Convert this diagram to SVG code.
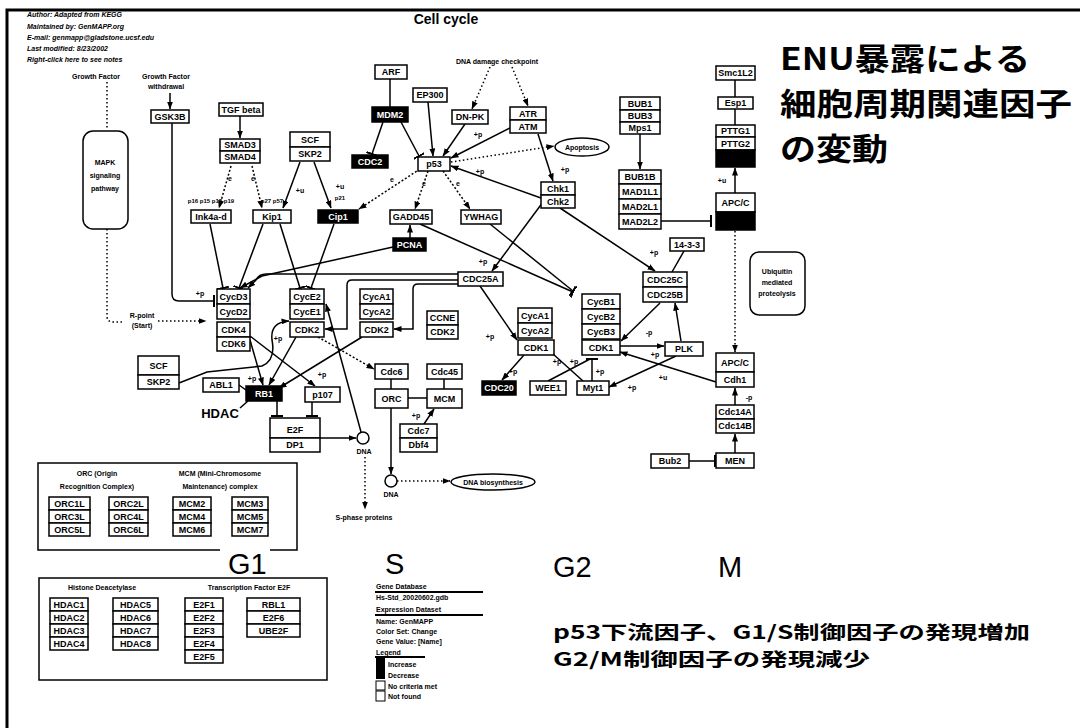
<svg xmlns="http://www.w3.org/2000/svg" width="1080" height="728" viewBox="0 0 1080 728">
<style>
.b{fill:#fff;stroke:#000;stroke-width:1.5}
.k{fill:#000;stroke:#000;stroke-width:1.5}
.t{font-family:"Liberation Sans",Arial,sans-serif;font-size:9px;font-weight:bold;text-anchor:middle;fill:#000}
.w{fill:#fff}
.s{font-family:"Liberation Sans",Arial,sans-serif;font-size:7px;font-weight:bold;fill:#000}
.c{text-anchor:middle}
.l{stroke:#000;stroke-width:1.5;fill:none}
.d{stroke-dasharray:2 2}
.o{stroke-dasharray:1.5 2.5}
.big{font-family:"Liberation Sans",Arial,sans-serif;font-size:29px;fill:#000}
.jp{font-family:"Noto Sans CJK JP","Noto Sans CJK SC",sans-serif;font-weight:bold;fill:#000}
</style>
<defs>
<marker id="ar" viewBox="0 0 8 6" refX="7.5" refY="3" markerWidth="8" markerHeight="6" markerUnits="userSpaceOnUse" orient="auto"><path d="M0,0 L8,3 L0,6 z"/></marker>
<marker id="bar" viewBox="0 0 2 12" refX="1" refY="6" markerWidth="2" markerHeight="12" markerUnits="userSpaceOnUse" orient="auto"><rect width="2" height="12"/></marker>
</defs>
<rect width="1080" height="728" fill="#fff"/>
<path d="M7,728 L7,10 L1080,10" fill="none" stroke="#000" stroke-width="3"/>

<g id="header" class="s" font-style="italic">
<text x="27" y="17">Author: Adapted from KEGG</text>
<text x="27" y="29">Maintained by: GenMAPP.org</text>
<text x="27" y="40">E-mail: genmapp@gladstone.ucsf.edu</text>
<text x="27" y="51">Last modified: 8/23/2002</text>
<text x="27" y="62">Right-click here to see notes</text>
</g>
<text x="446" y="24" font-family="Liberation Sans,Arial,sans-serif" font-size="14" font-weight="bold" text-anchor="middle">Cell cycle</text>

<g id="labels" class="s c">
<text x="96" y="79">Growth Factor</text>
<text x="166" y="79">Growth Factor</text>
<text x="166" y="89">withdrawal</text>
<text x="497" y="64">DNA damage checkpoint</text>
<text x="142" y="318">R-point</text>
<text x="142" y="328">(Start)</text>
<text x="211" y="203" font-size="6">p16 p15 p18 p19</text>
<text x="272" y="203" font-size="6">p27 p57</text>
<text x="340" y="200" font-size="6">p21</text>
<text x="364" y="520">S-phase proteins</text>
<text x="364" y="454">DNA</text>
<text x="391" y="497">DNA</text>
</g>
<text x="220" y="418" font-family="Liberation Sans,Arial,sans-serif" font-size="13" font-weight="bold" text-anchor="middle">HDAC</text>

<g id="connectors">
<path class="l o" d="M107,82 L107,130"/>
<path class="l o" d="M107,229 L107,316 Q107,322 113,322 L124,322"/>
<path class="l o" marker-end="url(#ar)" d="M158,321 L206,321"/>
<path class="l" marker-end="url(#ar)" d="M170,93 L170,109"/>
<path class="l" marker-end="url(#bar)" d="M172,123 L172,294 Q172,301 179,301 L214,301"/>
<path class="l" marker-end="url(#ar)" d="M240,116 L240,138"/>
<path class="l d" marker-end="url(#ar)" d="M231,166 L219,208"/>
<path class="l d" marker-end="url(#ar)" d="M252,166 L262,208"/>
<path class="l" marker-end="url(#ar)" d="M300,162 L283,208"/>
<path class="l" marker-end="url(#ar)" d="M314,162 L331,208"/>
<path class="l" d="M390,79 L390,107"/>
<path class="l" marker-end="url(#bar)" d="M383,122 L372,154"/>
<path class="l" marker-end="url(#bar)" d="M401,122 L419,156"/>
<path class="l" marker-end="url(#ar)" d="M428,102 L433,156"/>
<path class="l" marker-end="url(#ar)" d="M465,124 L443,156"/>
<path class="l" marker-end="url(#ar)" d="M510,128 L451,158"/>
<path class="l o" marker-end="url(#ar)" d="M490,67 L472,109"/>
<path class="l o" marker-end="url(#ar)" d="M512,67 L528,106"/>
<path class="l o" marker-end="url(#ar)" d="M451,162 L554,146"/>
<path class="l" marker-end="url(#ar)" d="M538,134 L553,181"/>
<path class="l" marker-end="url(#ar)" d="M541,198 L451,166"/>
<path class="l d" marker-end="url(#ar)" d="M420,169 L359,209"/>
<path class="l d" marker-end="url(#ar)" d="M428,171 L415,209"/>
<path class="l d" marker-end="url(#ar)" d="M443,171 L470,209"/>
<path class="l" marker-end="url(#ar)" d="M410,238 L410,225"/>
<path class="l" marker-end="url(#bar)" d="M420,224 L573,292"/>
<path class="l" marker-end="url(#bar)" d="M490,224 L573,291"/>
<path class="l" marker-end="url(#ar)" d="M543,202 L492,271"/>
<path class="l" marker-end="url(#ar)" d="M560,208 L655,271"/>
<path class="l" d="M684,251 L672,272"/>
<path class="l" marker-end="url(#ar)" d="M480,286 L517,340"/>
<path class="l" marker-end="url(#ar)" d="M524,355 L502,380"/>
<path class="l" d="M553,354 L583,381"/>
<path class="l" d="M548,381 L590,359"/>
<path class="l" marker-end="url(#bar)" d="M592,381 L592,359"/>
<path class="l" marker-end="url(#ar)" d="M620,346 L664,346"/>
<path class="l" marker-end="url(#ar)" d="M676,356 L609,387"/>
<path class="l" marker-end="url(#ar)" d="M681,341 L675,303"/>
<path class="l" marker-end="url(#ar)" d="M660,303 L621,341"/>
<path class="l" marker-end="url(#ar)" d="M716,382 L620,352"/>
<path class="l o" marker-end="url(#ar)" d="M735,231 L735,352"/>
<path class="l" marker-end="url(#ar)" d="M735,405 L735,388"/>
<path class="l" marker-end="url(#ar)" d="M735,453 L735,434"/>
<path class="l" marker-end="url(#bar)" d="M689,461 L715,461"/>
<path class="l" marker-end="url(#bar)" d="M661,221 L711,221"/>
<path class="l" marker-end="url(#ar)" d="M640,134 L640,169"/>
<path class="l" d="M735,80 L735,97 M735,109 L735,125"/>
<path class="l" marker-end="url(#ar)" d="M735,193 L735,168"/>
<path class="l" d="M391,379 L391,389 M444,379 L444,389 M408,398 L427,398"/>
<path class="l" marker-end="url(#ar)" d="M424,424 L434,409"/>
<path class="l" marker-end="url(#ar)" d="M391,408 L391,474"/>
<path class="l o" marker-end="url(#ar)" d="M397,481 L450,481"/>
<path class="l" marker-end="url(#ar)" d="M320,438 L356,438"/>
<path class="l" marker-end="url(#ar)" d="M361,432 L326,304"/>
<path class="l o" marker-end="url(#ar)" d="M365,457 L365,509"/>
<path class="l d" marker-end="url(#ar)" d="M318,337 L374,369"/>
<path class="l" marker-end="url(#ar)" d="M458,280 L352,280 Q347,280 347,285 L347,329 L325,329"/>
<path class="l" marker-end="url(#ar)" d="M458,284 L418,284 Q413,284 413,289 L413,329 L394,329"/>
<path class="l" marker-end="url(#ar)" d="M458,274 L266,274 Q259,274 256,280 L248,288"/>
<path class="l" marker-end="url(#ar)" d="M393,247 L262,276 L240,288"/>
<path class="l" marker-end="url(#bar)" d="M210,224 L223,288"/>
<path class="l" marker-end="url(#bar)" d="M263,224 L239,288"/>
<path class="l" marker-end="url(#bar)" d="M280,224 L300,288"/>
<path class="l" marker-end="url(#bar)" d="M334,224 L311,288"/>
<path class="l" marker-end="url(#ar)" d="M250,340 L263,385"/>
<path class="l" marker-end="url(#ar)" d="M250,336 L315,386"/>
<path class="l" marker-end="url(#ar)" d="M296,337 L269,385"/>
<path class="l" marker-end="url(#ar)" d="M362,337 L279,388"/>
<path class="l" marker-end="url(#ar)" d="M179,383 L207,372 L262,366 Q276,360 272,340 Q270,322 289,321"/>
<path class="l" marker-end="url(#bar)" d="M277,401 L277,416"/>
<path class="l" marker-end="url(#bar)" d="M312,402 L312,416"/>
<path class="l" d="M240,408 L248,401 M239,385 L246,390"/>
</g>

<g id="edge-labels" class="s c">
<text x="200" y="296">+p</text>
<text x="230" y="181">e</text>
<text x="253" y="181">e</text>
<text x="300" y="193">+u</text>
<text x="340" y="189">+u</text>
<text x="478" y="137">+p</text>
<text x="565" y="172">+p</text>
<text x="480" y="174">+p</text>
<text x="392" y="182">e</text>
<text x="424" y="186">e</text>
<text x="458" y="186">e</text>
<text x="483" y="264">+p</text>
<text x="654" y="255">+p</text>
<text x="490" y="339">+p</text>
<text x="513" y="374">+p</text>
<text x="557" y="364">+p</text>
<text x="574" y="364">+p</text>
<text x="600" y="374">+p</text>
<text x="649" y="335">-p</text>
<text x="655" y="357">+p</text>
<text x="632" y="390">+p</text>
<text x="663" y="380">+u</text>
<text x="749" y="400">-p</text>
<text x="722" y="183">+u</text>
<text x="416" y="418">+p</text>
<text x="252" y="381">+p</text>
<text x="322" y="377">+p</text>
<text x="278" y="341">+p</text>
</g>

<g id="n-mapk"><rect class="b" x="83" y="131" width="45" height="98" rx="10"/><text class="s c" x="105" y="165">MAPK</text><text class="s c" x="105" y="178">signaling</text><text class="s c" x="105" y="191">pathway</text></g>
<g id="n-gsk3b"><rect class="b" x="151" y="110" width="38" height="13"/><text class="t" x="170" y="119.7">GSK3B</text></g>
<g id="n-tgfb"><rect class="b" x="219" y="103" width="44" height="13"/><text class="t" x="241" y="112.7">TGF beta</text></g>
<g id="n-smad"><rect class="b" x="220" y="139" width="40" height="12"/><text class="t" x="240" y="148.2">SMAD3</text><rect class="b" x="220" y="151" width="40" height="12"/><text class="t" x="240" y="160.2">SMAD4</text></g>
<g id="n-ink4"><rect class="b" x="191" y="210" width="40" height="13"/><text class="t" x="211" y="219.7">Ink4a-d</text></g>
<g id="n-kip1"><rect class="b" x="253" y="210" width="38" height="13"/><text class="t" x="272" y="219.7">Kip1</text></g>
<g id="n-cip1"><rect class="k" x="318" y="210" width="40" height="13"/><text class="t w" x="338" y="219.7">Cip1</text></g>
<g id="n-scf1"><rect class="b" x="290" y="132" width="40" height="15"/><text class="t" x="310" y="142.7">SCF</text><rect class="b" x="290" y="147" width="40" height="14"/><text class="t" x="310" y="157.2">SKP2</text></g>
<g id="n-arf"><rect class="b" x="375" y="65" width="32" height="14"/><text class="t" x="391" y="75.2">ARF</text></g>
<g id="n-mdm2"><rect class="k" x="372" y="107" width="36" height="15"/><text class="t w" x="390" y="117.7">MDM2</text></g>
<g id="n-blk2"><rect class="k" x="352" y="155" width="36" height="13"/><text class="t w" x="370" y="164.7">CDC2</text></g>
<g id="n-ep300"><rect class="b" x="413" y="88" width="34" height="14"/><text class="t" x="430" y="98.2">EP300</text></g>
<g id="n-dnpk"><rect class="b" x="452" y="110" width="36" height="14"/><text class="t" x="470" y="120.2">DN-PK</text></g>
<g id="n-atr"><rect class="b" x="510" y="107" width="36" height="13"/><text class="t" x="528" y="116.7">ATR</text><rect class="b" x="510" y="120" width="36" height="13"/><text class="t" x="528" y="129.7">ATM</text></g>
<g id="n-p53"><rect class="b" x="418" y="157" width="32" height="14"/><text class="t" x="434" y="167.2">p53</text></g>
<g id="n-apop"><ellipse class="b" cx="582" cy="147" rx="27" ry="9"/><text class="s c" x="582" y="150">Apoptosis</text></g>
<g id="n-chk"><rect class="b" x="541" y="182" width="34" height="13"/><text class="t" x="558" y="191.7">Chk1</text><rect class="b" x="541" y="195" width="34" height="13"/><text class="t" x="558" y="204.7">Chk2</text></g>
<g id="n-gadd45"><rect class="b" x="390" y="210" width="42" height="14"/><text class="t" x="411" y="220.2">GADD45</text></g>
<g id="n-ywhag"><rect class="b" x="461" y="210" width="40" height="14"/><text class="t" x="481" y="220.2">YWHAG</text></g>
<g id="n-pcna"><rect class="k" x="393" y="238" width="33" height="13"/><text class="t w" x="409.5" y="247.7">PCNA</text></g>
<g id="n-bub1"><rect class="b" x="620" y="97" width="40" height="13"/><text class="t" x="640" y="106.7">BUB1</text><rect class="b" x="620" y="110" width="40" height="12"/><text class="t" x="640" y="119.2">BUB3</text><rect class="b" x="620" y="122" width="40" height="12"/><text class="t" x="640" y="131.2">Mps1</text></g>
<g id="n-mad"><rect class="b" x="619" y="170" width="42" height="14"/><text class="t" x="640" y="180.2">BUB1B</text><rect class="b" x="619" y="184" width="42" height="15"/><text class="t" x="640" y="194.7">MAD1L1</text><rect class="b" x="619" y="199" width="42" height="15"/><text class="t" x="640" y="209.7">MAD2L1</text><rect class="b" x="619" y="214" width="42" height="15"/><text class="t" x="640" y="224.7">MAD2L2</text></g>
<g id="n-smc"><rect class="b" x="716" y="66" width="39" height="14"/><text class="t" x="735.5" y="76.2">Smc1L2</text></g>
<g id="n-esp1"><rect class="b" x="718" y="97" width="35" height="12"/><text class="t" x="735.5" y="106.2">Esp1</text></g>
<g id="n-pttg"><rect class="b" x="716" y="125" width="39" height="12"/><text class="t" x="735.5" y="134.2">PTTG1</text><rect class="b" x="716" y="137" width="39" height="13"/><text class="t" x="735.5" y="146.7">PTTG2</text><rect class="k" x="716" y="150" width="39" height="17"/></g>
<g id="n-apc1"><rect class="b" x="716" y="193" width="39" height="19"/><text class="t" x="735.5" y="205.7">APC/C</text><rect class="k" x="716" y="212" width="39" height="18"/></g>
<g id="n-1433"><rect class="b" x="670" y="238" width="34" height="13"/><text class="t" x="687" y="247.7">14-3-3</text></g>
<g id="n-ubq"><rect class="b" x="750" y="252" width="55" height="63" rx="9"/><text class="s c" x="777" y="274">Ubiquitin</text><text class="s c" x="777" y="285">mediated</text><text class="s c" x="777" y="296">proteolysis</text></g>
<g id="n-cdc25c"><rect class="b" x="643" y="272" width="44" height="15"/><text class="t" x="665" y="282.7">CDC25C</text><rect class="b" x="643" y="287" width="44" height="15"/><text class="t" x="665" y="297.7">CDC25B</text></g>
<g id="n-cycb"><rect class="b" x="582" y="294" width="38" height="15"/><text class="t" x="601" y="304.7">CycB1</text><rect class="b" x="582" y="309" width="38" height="15"/><text class="t" x="601" y="319.7">CycB2</text><rect class="b" x="582" y="324" width="38" height="15"/><text class="t" x="601" y="334.7">CycB3</text><rect class="b" x="582" y="340" width="38" height="15"/><text class="t" x="601" y="350.7">CDK1</text></g>
<g id="n-plk"><rect class="b" x="665" y="342" width="38" height="14"/><text class="t" x="684" y="352.2">PLK</text></g>
<g id="n-apc2"><rect class="b" x="716" y="353" width="38" height="19"/><text class="t" x="735" y="365.7">APC/C</text><rect class="b" x="716" y="372" width="38" height="15"/><text class="t" x="735" y="382.7">Cdh1</text></g>
<g id="n-cdc14"><rect class="b" x="716" y="405" width="38" height="14"/><text class="t" x="735" y="415.2">Cdc14A</text><rect class="b" x="716" y="419" width="38" height="14"/><text class="t" x="735" y="429.2">Cdc14B</text></g>
<g id="n-men"><rect class="b" x="716" y="453" width="38" height="15"/><text class="t" x="735" y="463.7">MEN</text></g>
<g id="n-bub2"><rect class="b" x="651" y="454" width="38" height="14"/><text class="t" x="670" y="464.2">Bub2</text></g>
<g id="n-myt1"><rect class="b" x="577" y="381" width="32" height="14"/><text class="t" x="593" y="391.2">Myt1</text></g>
<g id="n-wee1"><rect class="b" x="530" y="381" width="36" height="14"/><text class="t" x="548" y="391.2">WEE1</text></g>
<g id="n-blk3"><rect class="k" x="482" y="381" width="34" height="14"/><text class="t w" x="499" y="391.2">CDC20</text></g>
<g id="n-cyca-cdk1"><rect class="b" x="518" y="308" width="34" height="15"/><text class="t" x="535" y="318.7">CycA1</text><rect class="b" x="518" y="323" width="34" height="15"/><text class="t" x="535" y="333.7">CycA2</text><rect class="b" x="518" y="340" width="36" height="15"/><text class="t" x="536" y="350.7">CDK1</text></g>
<g id="n-cdc25a"><rect class="b" x="458" y="272" width="45" height="14"/><text class="t" x="480.5" y="282.2">CDC25A</text></g>
<g id="n-ccne"><rect class="b" x="427" y="311" width="31" height="14"/><text class="t" x="442.5" y="321.2">CCNE</text><rect class="b" x="427" y="325" width="31" height="14"/><text class="t" x="442.5" y="335.2">CDK2</text></g>
<g id="n-cyca-cdk2"><rect class="b" x="360" y="289" width="33" height="15"/><text class="t" x="376.5" y="299.7">CycA1</text><rect class="b" x="360" y="304" width="33" height="15"/><text class="t" x="376.5" y="314.7">CycA2</text><rect class="b" x="360" y="322" width="33" height="15"/><text class="t" x="376.5" y="332.7">CDK2</text></g>
<g id="n-cyce"><rect class="b" x="290" y="289" width="34" height="15"/><text class="t" x="307" y="299.7">CycE2</text><rect class="b" x="290" y="304" width="34" height="15"/><text class="t" x="307" y="314.7">CycE1</text><rect class="b" x="290" y="322" width="34" height="15"/><text class="t" x="307" y="332.7">CDK2</text></g>
<g id="n-cycd"><rect class="b" x="217" y="289" width="33" height="15"/><text class="t" x="233.5" y="299.7">CycD3</text><rect class="b" x="217" y="304" width="33" height="15"/><text class="t" x="233.5" y="314.7">CycD2</text><rect class="b" x="217" y="322" width="33" height="15"/><text class="t" x="233.5" y="332.7">CDK4</text><rect class="b" x="217" y="337" width="33" height="14"/><text class="t" x="233.5" y="347.2">CDK6</text></g>
<g id="n-scf2"><rect class="b" x="138" y="356" width="41" height="19"/><text class="t" x="158.5" y="369" font-size="10">SCF</text><rect class="b" x="138" y="375" width="41" height="14"/><text class="t" x="158.5" y="385.2">SKP2</text></g>
<g id="n-abl1"><rect class="b" x="203" y="378" width="36" height="14"/><text class="t" x="221" y="388.2">ABL1</text></g>
<g id="n-rb1"><rect class="k" x="246" y="386" width="36" height="15"/><text class="t w" x="264" y="396.7">RB1</text></g>
<g id="n-p107"><rect class="b" x="305" y="387" width="35" height="15"/><text class="t" x="322.5" y="397.7">p107</text></g>
<g id="n-e2f"><rect class="b" x="270" y="418" width="50" height="20"/><text class="t" x="295" y="432.5" font-size="12">E2F</text><rect class="b" x="270" y="438" width="50" height="14"/><text class="t" x="295" y="448.2">DP1</text></g>
<g id="n-dna1"><circle class="b" cx="363" cy="438" r="6"/></g>
<g id="n-dna2"><circle class="b" cx="391" cy="481" r="6"/></g>
<g id="n-cdc6"><rect class="b" x="375" y="364" width="33" height="15"/><text class="t" x="391.5" y="374.7">Cdc6</text></g>
<g id="n-cdc45"><rect class="b" x="427" y="364" width="35" height="15"/><text class="t" x="444.5" y="374.7">Cdc45</text></g>
<g id="n-orc"><rect class="b" x="375" y="389" width="33" height="19"/><text class="t" x="391.5" y="401.5">ORC</text></g>
<g id="n-mcm"><rect class="b" x="427" y="389" width="35" height="19"/><text class="t" x="444.5" y="401.5">MCM</text></g>
<g id="n-cdc7"><rect class="b" x="400" y="424" width="37" height="14"/><text class="t" x="418.5" y="434.2">Cdc7</text><rect class="b" x="400" y="438" width="37" height="14"/><text class="t" x="418.5" y="448.2">Dbf4</text></g>
<g id="n-dnabio"><ellipse class="b" cx="493" cy="482" rx="42" ry="8"/><text class="s c" x="493" y="485">DNA biosynthesis</text></g>

<g id="g-orcmcm">
<path class="l" d="M220,550 L38,550 L38,463 L297,463 L297,550 L270,550"/>
<g class="s c"><text x="97" y="476">ORC (Origin</text><text x="97" y="489">Recognition Complex)</text><text x="220" y="476">MCM (Mini-Chromosome</text><text x="220" y="489">Maintenance) complex</text></g>
<rect class="b" x="49" y="497" width="41" height="13"/><text class="t" x="69.5" y="506.7">ORC1L</text>
<rect class="b" x="49" y="510" width="41" height="13"/><text class="t" x="69.5" y="519.7">ORC3L</text>
<rect class="b" x="49" y="523" width="41" height="13"/><text class="t" x="69.5" y="532.7">ORC5L</text>
<rect class="b" x="109" y="497" width="39" height="13"/><text class="t" x="128.5" y="506.7">ORC2L</text>
<rect class="b" x="109" y="510" width="39" height="13"/><text class="t" x="128.5" y="519.7">ORC4L</text>
<rect class="b" x="109" y="523" width="39" height="13"/><text class="t" x="128.5" y="532.7">ORC6L</text>
<rect class="b" x="173" y="497" width="38" height="13"/><text class="t" x="192" y="506.7">MCM2</text>
<rect class="b" x="173" y="510" width="38" height="13"/><text class="t" x="192" y="519.7">MCM4</text>
<rect class="b" x="173" y="523" width="38" height="13"/><text class="t" x="192" y="532.7">MCM6</text>
<rect class="b" x="232" y="497" width="36" height="13"/><text class="t" x="250" y="506.7">MCM3</text>
<rect class="b" x="232" y="510" width="36" height="13"/><text class="t" x="250" y="519.7">MCM5</text>
<rect class="b" x="232" y="523" width="36" height="13"/><text class="t" x="250" y="532.7">MCM7</text>
</g>

<g id="g-hdac">
<rect class="l" x="39" y="578" width="288" height="102"/>
<g class="s c"><text x="102" y="590">Histone Deacetylase</text><text x="249" y="590">Transcription Factor E2F</text></g>
<rect class="b" x="50" y="598" width="38" height="13"/><text class="t" x="69" y="607.7">HDAC1</text>
<rect class="b" x="50" y="611" width="38" height="13"/><text class="t" x="69" y="620.7">HDAC2</text>
<rect class="b" x="50" y="624" width="38" height="13"/><text class="t" x="69" y="633.7">HDAC3</text>
<rect class="b" x="50" y="637" width="38" height="13"/><text class="t" x="69" y="646.7">HDAC4</text>
<rect class="b" x="113" y="598" width="45" height="13"/><text class="t" x="135.5" y="607.7">HDAC5</text>
<rect class="b" x="113" y="611" width="45" height="13"/><text class="t" x="135.5" y="620.7">HDAC6</text>
<rect class="b" x="113" y="624" width="45" height="13"/><text class="t" x="135.5" y="633.7">HDAC7</text>
<rect class="b" x="113" y="637" width="45" height="13"/><text class="t" x="135.5" y="646.7">HDAC8</text>
<rect class="b" x="185" y="598" width="38" height="13"/><text class="t" x="204" y="607.7">E2F1</text>
<rect class="b" x="185" y="611" width="38" height="13"/><text class="t" x="204" y="620.7">E2F2</text>
<rect class="b" x="185" y="624" width="38" height="13"/><text class="t" x="204" y="633.7">E2F3</text>
<rect class="b" x="185" y="637" width="38" height="13"/><text class="t" x="204" y="646.7">E2F4</text>
<rect class="b" x="185" y="650" width="38" height="13"/><text class="t" x="204" y="659.7">E2F5</text>
<rect class="b" x="247" y="598" width="53" height="13"/><text class="t" x="273.5" y="607.7">RBL1</text>
<rect class="b" x="247" y="611" width="53" height="13"/><text class="t" x="273.5" y="620.7">E2F6</text>
<rect class="b" x="247" y="624" width="53" height="13"/><text class="t" x="273.5" y="633.7">UBE2F</text>
</g>

<g id="legend" class="s">
<text x="376" y="589">Gene Database</text>
<path d="M375,592 L483,592 M375,615 L483,615 M375,657 L425,657" stroke="#000" stroke-width="2"/>
<text x="376" y="600">Hs-Std_20020602.gdb</text>
<text x="376" y="612">Expression Dataset</text>
<text x="376" y="624">Name: GenMAPP</text>
<text x="376" y="634">Color Set: Change</text>
<text x="376" y="644">Gene Value: [Name]</text>
<text x="376" y="655">Legend</text>
<rect x="376" y="658" width="9" height="10" fill="#000"/>
<rect x="376" y="668" width="9" height="11" fill="#000"/>
<rect x="376" y="681" width="9" height="9" fill="#fff" stroke="#000"/>
<rect x="376" y="691" width="9" height="10" fill="#fff" stroke="#000"/>
<text x="388" y="667">Increase</text>
<text x="388" y="678">Decrease</text>
<text x="388" y="689">No criteria met</text>
<text x="388" y="699">Not found</text>
</g>

<g id="phases" class="big">
<text x="228" y="574">G1</text>
<text x="385" y="574">S</text>
<text x="553" y="577">G2</text>
<text x="718" y="577">M</text>
</g>

<g id="title-jp" class="jp" font-size="31">
<text x="780" y="70" textLength="250" lengthAdjust="spacingAndGlyphs">ENU暴露による</text>
<text x="780" y="115" textLength="292" lengthAdjust="spacingAndGlyphs">細胞周期関連因子</text>
<text x="780" y="160" textLength="108" lengthAdjust="spacingAndGlyphs">の変動</text>
</g>
<g id="note-jp" class="jp" font-size="18.5">
<text x="553" y="639" textLength="477" lengthAdjust="spacingAndGlyphs">p53下流因子、G1/S制御因子の発現増加</text>
<text x="553" y="666" textLength="317" lengthAdjust="spacingAndGlyphs">G2/M制御因子の発現減少</text>
</g>
</svg>
